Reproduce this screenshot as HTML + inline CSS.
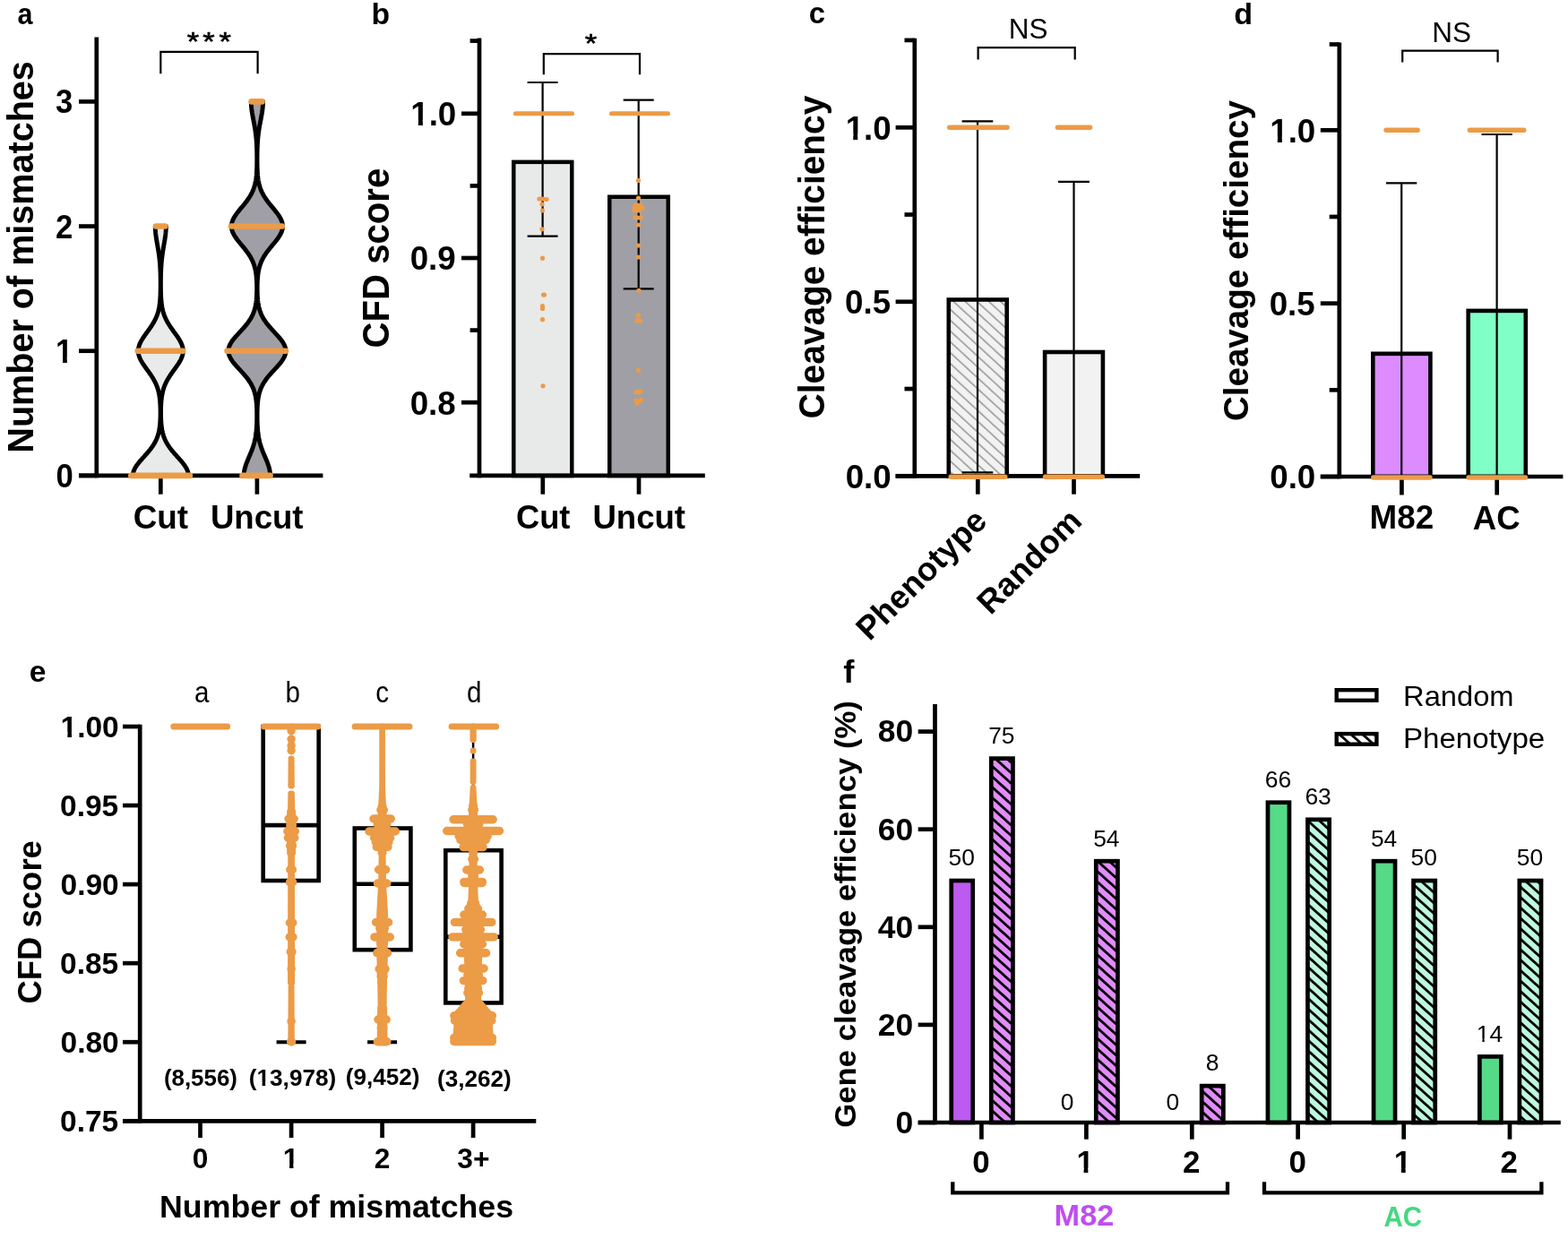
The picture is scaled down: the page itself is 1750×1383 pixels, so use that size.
<!DOCTYPE html>
<html><head><meta charset="utf-8"><title>Figure</title>
<style>html,body{margin:0;padding:0;background:#fff;}svg{display:block;}
text{font-family:'Liberation Sans', Arial, sans-serif;}</style></head>
<body><svg width="1750" height="1383" viewBox="0 0 1750 1383">
<rect width="1750" height="1383" fill="#fff"/>
<text transform="translate(19.62,26.99) scale(0.928,1)" font-size="32.89" font-weight="bold" fill="#000">a</text>
<text transform="translate(414.39,27.18) scale(1.016,1)" font-size="33.20" font-weight="bold" fill="#000">b</text>
<text transform="translate(902.68,26.18) scale(0.992,1)" font-size="33.07" font-weight="bold" fill="#000">c</text>
<text transform="translate(1377.23,27.28) scale(1.028,1)" font-size="33.20" font-weight="bold" fill="#000">d</text>
<text transform="translate(32.85,761.18) scale(1.016,1)" font-size="33.07" font-weight="bold" fill="#000">e</text>
<text transform="translate(941.33,761.6) scale(1.062,1)" font-size="34.45" font-weight="bold" fill="#000">f</text>
<path d="M210.3,530.9 L210.25,529.74 L210.11,528.58 L209.87,527.42 L209.54,526.26 L209.13,525.1 L208.62,523.94 L208.04,522.78 L207.38,521.62 L206.66,520.46 L205.87,519.3 L205.02,518.14 L204.12,516.98 L203.18,515.82 L202.21,514.66 L201.21,513.5 L200.18,512.34 L199.15,511.18 L198.1,510.02 L197.06,508.86 L196.02,507.7 L195,506.55 L193.99,505.39 L193,504.23 L192.04,503.07 L191.12,501.91 L190.22,500.75 L189.36,499.59 L188.55,498.43 L187.77,497.27 L187.03,496.11 L186.34,494.95 L185.68,493.79 L185.07,492.63 L184.51,491.47 L183.98,490.31 L183.5,489.15 L183.05,487.99 L182.64,486.83 L182.27,485.67 L181.93,484.51 L181.62,483.35 L181.34,482.19 L181.09,481.03 L180.87,479.87 L180.67,478.71 L180.49,477.55 L180.33,476.39 L180.19,475.23 L180.07,474.07 L179.97,472.91 L179.88,471.75 L179.8,470.59 L179.73,469.43 L179.67,468.27 L179.63,467.11 L179.59,465.95 L179.56,464.79 L179.54,463.63 L179.52,462.47 L179.52,461.31 L179.52,460.16 L179.52,459 L179.53,457.84 L179.55,456.68 L179.58,455.52 L179.62,454.36 L179.66,453.2 L179.71,452.04 L179.77,450.88 L179.84,449.72 L179.93,448.56 L180.02,447.4 L180.14,446.24 L180.26,445.08 L180.4,443.92 L180.56,442.76 L180.74,441.6 L180.95,440.44 L181.17,439.28 L181.42,438.12 L181.69,436.96 L181.99,435.8 L182.32,434.64 L182.68,433.48 L183.08,432.32 L183.5,431.16 L183.96,430 L184.45,428.84 L184.97,427.68 L185.53,426.52 L186.13,425.36 L186.76,424.2 L187.42,423.04 L188.11,421.88 L188.83,420.72 L189.58,419.56 L190.35,418.4 L191.15,417.24 L191.96,416.08 L192.79,414.92 L193.62,413.77 L194.46,412.61 L195.3,411.45 L196.14,410.29 L196.97,409.13 L197.77,407.97 L198.56,406.81 L199.32,405.65 L200.04,404.49 L200.72,403.33 L201.36,402.17 L201.95,401.01 L202.48,399.85 L202.95,398.69 L203.35,397.53 L203.69,396.37 L203.96,395.21 L204.15,394.05 L204.26,392.89 L204.3,391.73 L204.26,390.57 L204.15,389.41 L203.96,388.25 L203.69,387.09 L203.35,385.93 L202.95,384.77 L202.48,383.61 L201.95,382.45 L201.36,381.29 L200.72,380.13 L200.04,378.97 L199.32,377.81 L198.56,376.65 L197.77,375.49 L196.97,374.33 L196.14,373.17 L195.3,372.01 L194.46,370.85 L193.62,369.69 L192.79,368.53 L191.96,367.38 L191.15,366.22 L190.35,365.06 L189.58,363.9 L188.83,362.74 L188.11,361.58 L187.42,360.42 L186.76,359.26 L186.13,358.1 L185.53,356.94 L184.97,355.78 L184.45,354.62 L183.96,353.46 L183.5,352.3 L183.08,351.14 L182.68,349.98 L182.32,348.82 L181.99,347.66 L181.69,346.5 L181.42,345.34 L181.17,344.18 L180.94,343.02 L180.74,341.86 L180.56,340.7 L180.4,339.54 L180.26,338.38 L180.13,337.22 L180.02,336.06 L179.92,334.9 L179.83,333.74 L179.76,332.58 L179.69,331.42 L179.63,330.26 L179.58,329.1 L179.54,327.94 L179.51,326.78 L179.48,325.62 L179.46,324.46 L179.44,323.3 L179.42,322.14 L179.41,320.99 L179.4,319.83 L179.39,318.67 L179.39,317.51 L179.39,316.35 L179.4,315.19 L179.4,314.03 L179.41,312.87 L179.42,311.71 L179.44,310.55 L179.46,309.39 L179.48,308.23 L179.51,307.07 L179.53,305.91 L179.57,304.75 L179.61,303.59 L179.65,302.43 L179.7,301.27 L179.75,300.11 L179.81,298.95 L179.87,297.79 L179.95,296.63 L180.03,295.47 L180.11,294.31 L180.21,293.15 L180.31,291.99 L180.42,290.83 L180.54,289.67 L180.66,288.51 L180.8,287.35 L180.94,286.19 L181.09,285.03 L181.25,283.87 L181.41,282.71 L181.59,281.55 L181.77,280.39 L181.95,279.23 L182.14,278.07 L182.34,276.91 L182.54,275.75 L182.74,274.6 L182.94,273.44 L183.14,272.28 L183.34,271.12 L183.54,269.96 L183.73,268.8 L183.92,267.64 L184.1,266.48 L184.28,265.32 L184.44,264.16 L184.59,263 L184.74,261.84 L184.86,260.68 L184.98,259.52 L185.07,258.36 L185.15,257.2 L185.22,256.04 L185.26,254.88 L185.29,253.72 L185.3,252.56 L173.3,252.56 L173.31,253.72 L173.34,254.88 L173.38,256.04 L173.45,257.2 L173.53,258.36 L173.62,259.52 L173.74,260.68 L173.86,261.84 L174.01,263 L174.16,264.16 L174.32,265.32 L174.5,266.48 L174.68,267.64 L174.87,268.8 L175.06,269.96 L175.26,271.12 L175.46,272.28 L175.66,273.44 L175.86,274.6 L176.06,275.75 L176.26,276.91 L176.46,278.07 L176.65,279.23 L176.83,280.39 L177.01,281.55 L177.19,282.71 L177.35,283.87 L177.51,285.03 L177.66,286.19 L177.8,287.35 L177.94,288.51 L178.06,289.67 L178.18,290.83 L178.29,291.99 L178.39,293.15 L178.49,294.31 L178.57,295.47 L178.65,296.63 L178.73,297.79 L178.79,298.95 L178.85,300.11 L178.9,301.27 L178.95,302.43 L178.99,303.59 L179.03,304.75 L179.07,305.91 L179.09,307.07 L179.12,308.23 L179.14,309.39 L179.16,310.55 L179.18,311.71 L179.19,312.87 L179.2,314.03 L179.2,315.19 L179.21,316.35 L179.21,317.51 L179.21,318.67 L179.2,319.83 L179.19,320.99 L179.18,322.14 L179.16,323.3 L179.14,324.46 L179.12,325.62 L179.09,326.78 L179.06,327.94 L179.02,329.1 L178.97,330.26 L178.91,331.42 L178.84,332.58 L178.77,333.74 L178.68,334.9 L178.58,336.06 L178.47,337.22 L178.34,338.38 L178.2,339.54 L178.04,340.7 L177.86,341.86 L177.66,343.02 L177.43,344.18 L177.18,345.34 L176.91,346.5 L176.61,347.66 L176.28,348.82 L175.92,349.98 L175.52,351.14 L175.1,352.3 L174.64,353.46 L174.15,354.62 L173.63,355.78 L173.07,356.94 L172.47,358.1 L171.84,359.26 L171.18,360.42 L170.49,361.58 L169.77,362.74 L169.02,363.9 L168.25,365.06 L167.45,366.22 L166.64,367.38 L165.81,368.53 L164.98,369.69 L164.14,370.85 L163.3,372.01 L162.46,373.17 L161.63,374.33 L160.83,375.49 L160.04,376.65 L159.28,377.81 L158.56,378.97 L157.88,380.13 L157.24,381.29 L156.65,382.45 L156.12,383.61 L155.65,384.77 L155.25,385.93 L154.91,387.09 L154.64,388.25 L154.45,389.41 L154.34,390.57 L154.3,391.73 L154.34,392.89 L154.45,394.05 L154.64,395.21 L154.91,396.37 L155.25,397.53 L155.65,398.69 L156.12,399.85 L156.65,401.01 L157.24,402.17 L157.88,403.33 L158.56,404.49 L159.28,405.65 L160.04,406.81 L160.83,407.97 L161.63,409.13 L162.46,410.29 L163.3,411.45 L164.14,412.61 L164.98,413.77 L165.81,414.92 L166.64,416.08 L167.45,417.24 L168.25,418.4 L169.02,419.56 L169.77,420.72 L170.49,421.88 L171.18,423.04 L171.84,424.2 L172.47,425.36 L173.07,426.52 L173.63,427.68 L174.15,428.84 L174.64,430 L175.1,431.16 L175.52,432.32 L175.92,433.48 L176.28,434.64 L176.61,435.8 L176.91,436.96 L177.18,438.12 L177.43,439.28 L177.65,440.44 L177.86,441.6 L178.04,442.76 L178.2,443.92 L178.34,445.08 L178.46,446.24 L178.58,447.4 L178.67,448.56 L178.76,449.72 L178.83,450.88 L178.89,452.04 L178.94,453.2 L178.98,454.36 L179.02,455.52 L179.05,456.68 L179.07,457.84 L179.08,459 L179.08,460.16 L179.08,461.31 L179.08,462.47 L179.06,463.63 L179.04,464.79 L179.01,465.95 L178.97,467.11 L178.93,468.27 L178.87,469.43 L178.8,470.59 L178.72,471.75 L178.63,472.91 L178.53,474.07 L178.41,475.23 L178.27,476.39 L178.11,477.55 L177.93,478.71 L177.73,479.87 L177.51,481.03 L177.26,482.19 L176.98,483.35 L176.67,484.51 L176.33,485.67 L175.96,486.83 L175.55,487.99 L175.1,489.15 L174.62,490.31 L174.09,491.47 L173.53,492.63 L172.92,493.79 L172.26,494.95 L171.57,496.11 L170.83,497.27 L170.05,498.43 L169.24,499.59 L168.38,500.75 L167.48,501.91 L166.56,503.07 L165.6,504.23 L164.61,505.39 L163.6,506.55 L162.58,507.7 L161.54,508.86 L160.5,510.02 L159.45,511.18 L158.42,512.34 L157.39,513.5 L156.39,514.66 L155.42,515.82 L154.48,516.98 L153.58,518.14 L152.73,519.3 L151.94,520.46 L151.22,521.62 L150.56,522.78 L149.98,523.94 L149.47,525.1 L149.06,526.26 L148.73,527.42 L148.49,528.58 L148.35,529.74 L148.3,530.9 Z" fill="#E9EBEA" stroke="#000" stroke-width="4.9" stroke-linejoin="round"/>
<path d="M301.6,530.9 L301.55,529.16 L301.4,527.42 L301.15,525.68 L300.81,523.94 L300.38,522.2 L299.87,520.46 L299.3,518.72 L298.67,516.98 L298,515.24 L297.29,513.5 L296.56,511.76 L295.82,510.02 L295.07,508.28 L294.34,506.55 L293.63,504.81 L292.94,503.07 L292.29,501.33 L291.67,499.59 L291.1,497.85 L290.57,496.11 L290.08,494.37 L289.64,492.63 L289.24,490.89 L288.89,489.15 L288.58,487.41 L288.31,485.67 L288.07,483.93 L287.87,482.19 L287.7,480.45 L287.55,478.71 L287.43,476.97 L287.33,475.23 L287.25,473.49 L287.19,471.75 L287.14,470.01 L287.1,468.27 L287.08,466.53 L287.07,464.79 L287.07,463.05 L287.08,461.31 L287.11,459.58 L287.14,457.84 L287.2,456.1 L287.27,454.36 L287.37,452.62 L287.49,450.88 L287.64,449.14 L287.82,447.4 L288.04,445.66 L288.31,443.92 L288.63,442.18 L289,440.44 L289.45,438.7 L289.96,436.96 L290.55,435.22 L291.23,433.48 L292,431.74 L292.86,430 L293.82,428.26 L294.88,426.52 L296.04,424.78 L297.29,423.04 L298.63,421.3 L300.06,419.56 L301.55,417.82 L303.1,416.08 L304.7,414.35 L306.31,412.61 L307.92,410.87 L309.51,409.13 L311.05,407.39 L312.52,405.65 L313.89,403.91 L315.14,402.17 L316.24,400.43 L317.17,398.69 L317.92,396.95 L318.46,395.21 L318.79,393.47 L318.9,391.73 L318.79,389.99 L318.46,388.25 L317.92,386.51 L317.17,384.77 L316.24,383.03 L315.14,381.29 L313.89,379.55 L312.52,377.81 L311.05,376.07 L309.51,374.33 L307.92,372.59 L306.31,370.85 L304.7,369.11 L303.1,367.38 L301.55,365.64 L300.06,363.9 L298.63,362.16 L297.29,360.42 L296.04,358.68 L294.88,356.94 L293.82,355.2 L292.86,353.46 L292,351.72 L291.23,349.98 L290.55,348.24 L289.96,346.5 L289.45,344.76 L289.01,343.02 L288.63,341.28 L288.31,339.54 L288.04,337.8 L287.82,336.06 L287.64,334.32 L287.5,332.58 L287.38,330.84 L287.29,329.1 L287.22,327.36 L287.18,325.62 L287.15,323.88 L287.13,322.14 L287.14,320.41 L287.16,318.67 L287.2,316.93 L287.26,315.19 L287.33,313.45 L287.44,311.71 L287.57,309.97 L287.73,308.23 L287.92,306.49 L288.16,304.75 L288.45,303.01 L288.78,301.27 L289.18,299.53 L289.64,297.79 L290.17,296.05 L290.77,294.31 L291.46,292.57 L292.23,290.83 L293.09,289.09 L294.03,287.35 L295.07,285.61 L296.19,283.87 L297.38,282.13 L298.66,280.39 L299.99,278.65 L301.38,276.91 L302.8,275.18 L304.25,273.44 L305.69,271.7 L307.11,269.96 L308.49,268.22 L309.8,266.48 L311.03,264.74 L312.14,263 L313.12,261.26 L313.95,259.52 L314.62,257.78 L315.11,256.04 L315.4,254.3 L315.5,252.56 L315.4,250.82 L315.11,249.08 L314.62,247.34 L313.95,245.6 L313.12,243.86 L312.14,242.12 L311.03,240.38 L309.8,238.64 L308.49,236.9 L307.11,235.16 L305.69,233.42 L304.25,231.68 L302.8,229.94 L301.38,228.21 L299.99,226.47 L298.66,224.73 L297.38,222.99 L296.19,221.25 L295.07,219.51 L294.03,217.77 L293.09,216.03 L292.23,214.29 L291.46,212.55 L290.77,210.81 L290.17,209.07 L289.64,207.33 L289.18,205.59 L288.78,203.85 L288.44,202.11 L288.16,200.37 L287.92,198.63 L287.72,196.89 L287.55,195.15 L287.42,193.41 L287.31,191.67 L287.23,189.93 L287.16,188.19 L287.1,186.45 L287.06,184.71 L287.04,182.98 L287.02,181.24 L287.01,179.5 L287,177.76 L287.01,176.02 L287.02,174.28 L287.04,172.54 L287.06,170.8 L287.1,169.06 L287.14,167.32 L287.19,165.58 L287.26,163.84 L287.34,162.1 L287.43,160.36 L287.53,158.62 L287.65,156.88 L287.79,155.14 L287.95,153.4 L288.13,151.66 L288.33,149.92 L288.55,148.18 L288.78,146.44 L289.04,144.7 L289.32,142.96 L289.61,141.22 L289.92,139.48 L290.24,137.74 L290.57,136.01 L290.9,134.27 L291.24,132.53 L291.56,130.79 L291.88,129.05 L292.18,127.31 L292.47,125.57 L292.72,123.83 L292.95,122.09 L293.14,120.35 L293.3,118.61 L293.41,116.87 L293.48,115.13 L293.5,113.39 L280.3,113.39 L280.32,115.13 L280.39,116.87 L280.5,118.61 L280.66,120.35 L280.85,122.09 L281.08,123.83 L281.33,125.57 L281.62,127.31 L281.92,129.05 L282.24,130.79 L282.56,132.53 L282.9,134.27 L283.23,136.01 L283.56,137.74 L283.88,139.48 L284.19,141.22 L284.48,142.96 L284.76,144.7 L285.02,146.44 L285.25,148.18 L285.47,149.92 L285.67,151.66 L285.85,153.4 L286.01,155.14 L286.15,156.88 L286.27,158.62 L286.37,160.36 L286.46,162.1 L286.54,163.84 L286.61,165.58 L286.66,167.32 L286.7,169.06 L286.74,170.8 L286.76,172.54 L286.78,174.28 L286.79,176.02 L286.8,177.76 L286.79,179.5 L286.78,181.24 L286.76,182.98 L286.74,184.71 L286.7,186.45 L286.64,188.19 L286.57,189.93 L286.49,191.67 L286.38,193.41 L286.25,195.15 L286.08,196.89 L285.88,198.63 L285.64,200.37 L285.36,202.11 L285.02,203.85 L284.62,205.59 L284.16,207.33 L283.63,209.07 L283.03,210.81 L282.34,212.55 L281.57,214.29 L280.71,216.03 L279.77,217.77 L278.73,219.51 L277.61,221.25 L276.42,222.99 L275.14,224.73 L273.81,226.47 L272.42,228.21 L271,229.94 L269.55,231.68 L268.11,233.42 L266.69,235.16 L265.31,236.9 L264,238.64 L262.77,240.38 L261.66,242.12 L260.68,243.86 L259.85,245.6 L259.18,247.34 L258.69,249.08 L258.4,250.82 L258.3,252.56 L258.4,254.3 L258.69,256.04 L259.18,257.78 L259.85,259.52 L260.68,261.26 L261.66,263 L262.77,264.74 L264,266.48 L265.31,268.22 L266.69,269.96 L268.11,271.7 L269.55,273.44 L271,275.18 L272.42,276.91 L273.81,278.65 L275.14,280.39 L276.42,282.13 L277.61,283.87 L278.73,285.61 L279.77,287.35 L280.71,289.09 L281.57,290.83 L282.34,292.57 L283.03,294.31 L283.63,296.05 L284.16,297.79 L284.62,299.53 L285.02,301.27 L285.35,303.01 L285.64,304.75 L285.88,306.49 L286.07,308.23 L286.23,309.97 L286.36,311.71 L286.47,313.45 L286.54,315.19 L286.6,316.93 L286.64,318.67 L286.66,320.41 L286.67,322.14 L286.65,323.88 L286.62,325.62 L286.58,327.36 L286.51,329.1 L286.42,330.84 L286.3,332.58 L286.16,334.32 L285.98,336.06 L285.76,337.8 L285.49,339.54 L285.17,341.28 L284.79,343.02 L284.35,344.76 L283.84,346.5 L283.25,348.24 L282.57,349.98 L281.8,351.72 L280.94,353.46 L279.98,355.2 L278.92,356.94 L277.76,358.68 L276.51,360.42 L275.17,362.16 L273.74,363.9 L272.25,365.64 L270.7,367.38 L269.1,369.11 L267.49,370.85 L265.88,372.59 L264.29,374.33 L262.75,376.07 L261.28,377.81 L259.91,379.55 L258.66,381.29 L257.56,383.03 L256.63,384.77 L255.88,386.51 L255.34,388.25 L255.01,389.99 L254.9,391.73 L255.01,393.47 L255.34,395.21 L255.88,396.95 L256.63,398.69 L257.56,400.43 L258.66,402.17 L259.91,403.91 L261.28,405.65 L262.75,407.39 L264.29,409.13 L265.88,410.87 L267.49,412.61 L269.1,414.35 L270.7,416.08 L272.25,417.82 L273.74,419.56 L275.17,421.3 L276.51,423.04 L277.76,424.78 L278.92,426.52 L279.98,428.26 L280.94,430 L281.8,431.74 L282.57,433.48 L283.25,435.22 L283.84,436.96 L284.35,438.7 L284.8,440.44 L285.17,442.18 L285.49,443.92 L285.76,445.66 L285.98,447.4 L286.16,449.14 L286.31,450.88 L286.43,452.62 L286.53,454.36 L286.6,456.1 L286.66,457.84 L286.69,459.58 L286.72,461.31 L286.73,463.05 L286.73,464.79 L286.72,466.53 L286.7,468.27 L286.66,470.01 L286.61,471.75 L286.55,473.49 L286.47,475.23 L286.37,476.97 L286.25,478.71 L286.1,480.45 L285.93,482.19 L285.73,483.93 L285.49,485.67 L285.22,487.41 L284.91,489.15 L284.56,490.89 L284.16,492.63 L283.72,494.37 L283.23,496.11 L282.7,497.85 L282.13,499.59 L281.51,501.33 L280.86,503.07 L280.17,504.81 L279.46,506.55 L278.73,508.28 L277.98,510.02 L277.24,511.76 L276.51,513.5 L275.8,515.24 L275.13,516.98 L274.5,518.72 L273.93,520.46 L273.42,522.2 L272.99,523.94 L272.65,525.68 L272.4,527.42 L272.25,529.16 L272.2,530.9 Z" fill="#A09FA5" stroke="#000" stroke-width="4.9" stroke-linejoin="round"/>
<line x1="107.8" y1="41.6" x2="107.8" y2="533.25" stroke="#000" stroke-width="4.7" stroke-linecap="butt"/>
<line x1="88" y1="530.9" x2="360.4" y2="530.9" stroke="#000" stroke-width="4.7" stroke-linecap="butt"/>
<line x1="88" y1="530.9" x2="107.8" y2="530.9" stroke="#000" stroke-width="4.7" stroke-linecap="butt"/>
<text transform="translate(62.52,543.85) scale(0.950,1)" font-size="36.50" font-weight="bold" fill="#000">0</text>
<line x1="88" y1="391.73" x2="107.8" y2="391.73" stroke="#000" stroke-width="4.7" stroke-linecap="butt"/>
<g><text transform="translate(61.98,404.96) scale(0.950,1)" font-size="36.50" font-weight="bold" fill="#000">1</text><g transform="translate(61.98,404.96) scale(0.950,1)"><rect x="1.46" y="-6.21" width="7.03" height="7.30" fill="#fff"/><rect x="13.52" y="-6.21" width="6.55" height="7.30" fill="#fff"/></g></g>
<line x1="88" y1="252.56" x2="107.8" y2="252.56" stroke="#000" stroke-width="4.7" stroke-linecap="butt"/>
<text transform="translate(61.98,265.79) scale(0.950,1)" font-size="36.50" font-weight="bold" fill="#000">2</text>
<line x1="88" y1="113.39" x2="107.8" y2="113.39" stroke="#000" stroke-width="4.7" stroke-linecap="butt"/>
<text transform="translate(61.98,126.34) scale(0.950,1)" font-size="36.50" font-weight="bold" fill="#000">3</text>
<line x1="179.3" y1="530.9" x2="179.3" y2="551.7" stroke="#000" stroke-width="4.7" stroke-linecap="butt"/>
<line x1="286.9" y1="530.9" x2="286.9" y2="551.7" stroke="#000" stroke-width="4.7" stroke-linecap="butt"/>
<line x1="146.3" y1="530.9" x2="211.9" y2="530.9" stroke="#EC9B46" stroke-width="6.6" stroke-linecap="round"/>
<line x1="153.7" y1="391.73" x2="204.2" y2="391.73" stroke="#EC9B46" stroke-width="6.6" stroke-linecap="round"/>
<line x1="174.1" y1="252.56" x2="184.2" y2="252.56" stroke="#EC9B46" stroke-width="6.6" stroke-linecap="round"/>
<line x1="270.5" y1="530.9" x2="301.6" y2="530.9" stroke="#EC9B46" stroke-width="6.6" stroke-linecap="round"/>
<line x1="253.6" y1="391.73" x2="319" y2="391.73" stroke="#EC9B46" stroke-width="6.6" stroke-linecap="round"/>
<line x1="257.9" y1="252.56" x2="314.8" y2="252.56" stroke="#EC9B46" stroke-width="6.6" stroke-linecap="round"/>
<line x1="280.6" y1="113.39" x2="292.5" y2="113.39" stroke="#EC9B46" stroke-width="6.6" stroke-linecap="round"/>
<text transform="translate(148.65,590.33) scale(1.015,1)" font-size="36.31" font-weight="bold" fill="#000">Cut</text>
<text transform="translate(234.88,590.43) scale(1.008,1)" font-size="36.31" font-weight="bold" fill="#000">Uncut</text>
<text transform="translate(36.98,505.67) rotate(-90) scale(0.996,1)" font-size="39.73" font-weight="bold" fill="#000">Number of mismatches</text>
<path d="M179.3,82.2 V57.8 H287.6 V82.2" fill="none" stroke="#000" stroke-width="2.2"/>
<text transform="translate(208.86,56.4) scale(1.155,1)" font-size="29.87" font-weight="normal" fill="#000" stroke="#000" stroke-width="0.6">*</text>
<text transform="translate(226.36,56.4) scale(1.155,1)" font-size="29.87" font-weight="normal" fill="#000" stroke="#000" stroke-width="0.6">*</text>
<text transform="translate(244.56,56.4) scale(1.155,1)" font-size="29.87" font-weight="normal" fill="#000" stroke="#000" stroke-width="0.6">*</text>
<rect x="573.25" y="180.85" width="65" height="350.15" fill="#E8E9E9" stroke="#000" stroke-width="4.5"/>
<rect x="680.25" y="219.75" width="65.5" height="311.25" fill="#A09FA5" stroke="#000" stroke-width="4.5"/>
<line x1="535" y1="42.4" x2="535" y2="533.25" stroke="#000" stroke-width="4.7" stroke-linecap="butt"/>
<line x1="524.2" y1="530.9" x2="786.8" y2="530.9" stroke="#000" stroke-width="4.7" stroke-linecap="butt"/>
<line x1="524.6" y1="45.6" x2="535" y2="45.6" stroke="#000" stroke-width="4.7" stroke-linecap="butt"/>
<line x1="515" y1="126.8" x2="535" y2="126.8" stroke="#000" stroke-width="4.7" stroke-linecap="butt"/>
<g><text transform="translate(458.27,140.22)" font-size="36.70" font-weight="bold" fill="#000">1.0</text><g transform="translate(458.27,140.22)"><rect x="1.47" y="-6.24" width="7.06" height="7.34" fill="#fff"/><rect x="13.60" y="-6.24" width="6.59" height="7.34" fill="#fff"/></g></g>
<line x1="524.6" y1="207.4" x2="535" y2="207.4" stroke="#000" stroke-width="4.7" stroke-linecap="butt"/>
<line x1="515" y1="288" x2="535" y2="288" stroke="#000" stroke-width="4.7" stroke-linecap="butt"/>
<text transform="translate(457.7,301.42)" font-size="36.70" font-weight="bold" fill="#000">0.9</text>
<line x1="524.6" y1="368.6" x2="535" y2="368.6" stroke="#000" stroke-width="4.7" stroke-linecap="butt"/>
<line x1="515" y1="449.2" x2="535" y2="449.2" stroke="#000" stroke-width="4.7" stroke-linecap="butt"/>
<text transform="translate(457.7,462.62)" font-size="36.70" font-weight="bold" fill="#000">0.8</text>
<line x1="605.8" y1="530.9" x2="605.8" y2="551.7" stroke="#000" stroke-width="4.7" stroke-linecap="butt"/>
<line x1="713" y1="530.9" x2="713" y2="551.7" stroke="#000" stroke-width="4.7" stroke-linecap="butt"/>
<line x1="605.6" y1="92" x2="605.6" y2="263.7" stroke="#000" stroke-width="2.2" stroke-linecap="butt"/>
<line x1="588.6" y1="92" x2="622.6" y2="92" stroke="#000" stroke-width="2.2" stroke-linecap="butt"/>
<line x1="588.6" y1="263.7" x2="622.6" y2="263.7" stroke="#000" stroke-width="2.2" stroke-linecap="butt"/>
<line x1="712.7" y1="111.7" x2="712.7" y2="322.4" stroke="#000" stroke-width="2.2" stroke-linecap="butt"/>
<line x1="695.7" y1="111.7" x2="729.7" y2="111.7" stroke="#000" stroke-width="2.2" stroke-linecap="butt"/>
<line x1="695.7" y1="322.4" x2="729.7" y2="322.4" stroke="#000" stroke-width="2.2" stroke-linecap="butt"/>
<line x1="575.3" y1="126.8" x2="638.5" y2="126.8" stroke="#EC9B46" stroke-width="5" stroke-linecap="round"/>
<line x1="682.5" y1="126.8" x2="745.5" y2="126.8" stroke="#EC9B46" stroke-width="5" stroke-linecap="round"/>
<circle cx="602" cy="222" r="2.6" fill="#EC9B46"/>
<circle cx="606" cy="222" r="2.6" fill="#EC9B46"/>
<circle cx="610" cy="222.5" r="2.6" fill="#EC9B46"/>
<circle cx="605" cy="228" r="2.6" fill="#EC9B46"/>
<circle cx="605.5" cy="235" r="2.6" fill="#EC9B46"/>
<circle cx="605" cy="255.8" r="2.6" fill="#EC9B46"/>
<circle cx="605.5" cy="288.2" r="2.6" fill="#EC9B46"/>
<circle cx="606.5" cy="329" r="2.6" fill="#EC9B46"/>
<circle cx="607.5" cy="329" r="2.6" fill="#EC9B46"/>
<circle cx="605.5" cy="341.7" r="2.6" fill="#EC9B46"/>
<circle cx="605.5" cy="344.5" r="2.6" fill="#EC9B46"/>
<circle cx="605.5" cy="356.7" r="2.6" fill="#EC9B46"/>
<circle cx="606" cy="430.8" r="2.6" fill="#EC9B46"/>
<circle cx="712.5" cy="201.4" r="2.6" fill="#EC9B46"/>
<circle cx="712.5" cy="221" r="2.6" fill="#EC9B46"/>
<circle cx="709" cy="229" r="2.6" fill="#EC9B46"/>
<circle cx="712" cy="229" r="2.6" fill="#EC9B46"/>
<circle cx="715" cy="229" r="2.6" fill="#EC9B46"/>
<circle cx="708" cy="232" r="2.6" fill="#EC9B46"/>
<circle cx="711" cy="232" r="2.6" fill="#EC9B46"/>
<circle cx="714" cy="232" r="2.6" fill="#EC9B46"/>
<circle cx="717" cy="232" r="2.6" fill="#EC9B46"/>
<circle cx="708" cy="235" r="2.6" fill="#EC9B46"/>
<circle cx="711" cy="235" r="2.6" fill="#EC9B46"/>
<circle cx="714" cy="235" r="2.6" fill="#EC9B46"/>
<circle cx="709" cy="243" r="2.6" fill="#EC9B46"/>
<circle cx="712" cy="243" r="2.6" fill="#EC9B46"/>
<circle cx="715" cy="243" r="2.6" fill="#EC9B46"/>
<circle cx="712.5" cy="251" r="2.6" fill="#EC9B46"/>
<circle cx="712.5" cy="274" r="2.6" fill="#EC9B46"/>
<circle cx="712.5" cy="287" r="2.6" fill="#EC9B46"/>
<circle cx="713" cy="324.3" r="2.6" fill="#EC9B46"/>
<circle cx="712.5" cy="352" r="2.6" fill="#EC9B46"/>
<circle cx="711" cy="357.9" r="2.6" fill="#EC9B46"/>
<circle cx="714" cy="357.9" r="2.6" fill="#EC9B46"/>
<circle cx="712.5" cy="413.4" r="2.6" fill="#EC9B46"/>
<circle cx="710" cy="437.7" r="2.6" fill="#EC9B46"/>
<circle cx="713" cy="437.7" r="2.6" fill="#EC9B46"/>
<circle cx="715" cy="436.5" r="2.6" fill="#EC9B46"/>
<circle cx="710" cy="447" r="2.6" fill="#EC9B46"/>
<circle cx="713" cy="448" r="2.6" fill="#EC9B46"/>
<circle cx="715.5" cy="446.5" r="2.6" fill="#EC9B46"/>
<circle cx="711" cy="450" r="2.6" fill="#EC9B46"/>
<text transform="translate(433.73,388.56) rotate(-90) scale(0.944,1)" font-size="42.57" font-weight="bold" fill="#000">CFD score</text>
<text transform="translate(575.96,590.13) scale(1.004,1)" font-size="36.17" font-weight="bold" fill="#000">Cut</text>
<text transform="translate(661.38,590.13) scale(1.012,1)" font-size="36.17" font-weight="bold" fill="#000">Uncut</text>
<path d="M606.8,83.3 V60.1 H714 V83.3" fill="none" stroke="#000" stroke-width="2.2"/>
<text transform="translate(652.76,57.77) scale(1.144,1)" font-size="30.40" font-weight="normal" fill="#000" stroke="#000" stroke-width="0.6">*</text>
<defs><pattern id="hc" patternUnits="userSpaceOnUse" width="8.9" height="8.9" patternTransform="rotate(-47.4)"><rect width="8.9" height="8.9" fill="#F2F2F2"/><rect x="0" y="0" width="1.6" height="8.9" fill="#999"/></pattern></defs>
<rect x="1058.8" y="334.5" width="64.9" height="196.8" fill="url(#hc)" stroke="#000" stroke-width="4.6"/>
<rect x="1166.1" y="393" width="64.8" height="138.3" fill="#F2F2F2" stroke="#000" stroke-width="4.6"/>
<line x1="1020.8" y1="42.8" x2="1020.8" y2="533.65" stroke="#000" stroke-width="4.7" stroke-linecap="butt"/>
<line x1="999.6" y1="531.3" x2="1272.2" y2="531.3" stroke="#000" stroke-width="4.7" stroke-linecap="butt"/>
<line x1="1009.5" y1="44.9" x2="1020.8" y2="44.9" stroke="#000" stroke-width="4.7" stroke-linecap="butt"/>
<line x1="999.6" y1="142.3" x2="1020.8" y2="142.3" stroke="#000" stroke-width="4.7" stroke-linecap="butt"/>
<g><text transform="translate(943.67,155.72)" font-size="36.70" font-weight="bold" fill="#000">1.0</text><g transform="translate(943.67,155.72)"><rect x="1.47" y="-6.24" width="7.06" height="7.34" fill="#fff"/><rect x="13.60" y="-6.24" width="6.59" height="7.34" fill="#fff"/></g></g>
<line x1="1009.5" y1="239.55" x2="1020.8" y2="239.55" stroke="#000" stroke-width="4.7" stroke-linecap="butt"/>
<line x1="999.6" y1="336.8" x2="1020.8" y2="336.8" stroke="#000" stroke-width="4.7" stroke-linecap="butt"/>
<text transform="translate(943.1,350.22)" font-size="36.70" font-weight="bold" fill="#000">0.5</text>
<line x1="1009.5" y1="434.05" x2="1020.8" y2="434.05" stroke="#000" stroke-width="4.7" stroke-linecap="butt"/>
<line x1="999.6" y1="531.3" x2="1020.8" y2="531.3" stroke="#000" stroke-width="4.7" stroke-linecap="butt"/>
<text transform="translate(943.67,544.72)" font-size="36.70" font-weight="bold" fill="#000">0.0</text>
<line x1="1091.3" y1="531.3" x2="1091.3" y2="551.7" stroke="#000" stroke-width="4.7" stroke-linecap="butt"/>
<line x1="1198.5" y1="531.3" x2="1198.5" y2="551.7" stroke="#000" stroke-width="4.7" stroke-linecap="butt"/>
<line x1="1091" y1="135.3" x2="1091" y2="527.4" stroke="#000" stroke-width="2.2" stroke-linecap="butt"/>
<line x1="1073.6" y1="135.3" x2="1108.3" y2="135.3" stroke="#000" stroke-width="2.2" stroke-linecap="butt"/>
<line x1="1073.6" y1="527.4" x2="1108.3" y2="527.4" stroke="#000" stroke-width="2.2" stroke-linecap="butt"/>
<line x1="1198.5" y1="202.9" x2="1198.5" y2="531.3" stroke="#000" stroke-width="2.2" stroke-linecap="butt"/>
<line x1="1181" y1="202.9" x2="1215.9" y2="202.9" stroke="#000" stroke-width="2.2" stroke-linecap="butt"/>
<line x1="1059.75" y1="142.3" x2="1124.05" y2="142.3" stroke="#EC9B46" stroke-width="5.5" stroke-linecap="round"/>
<line x1="1180.45" y1="142.3" x2="1216.55" y2="142.3" stroke="#EC9B46" stroke-width="5.5" stroke-linecap="round"/>
<line x1="1061.25" y1="532.3" x2="1121.75" y2="532.3" stroke="#EC9B46" stroke-width="5.5" stroke-linecap="round"/>
<line x1="1166.55" y1="532.3" x2="1230.25" y2="532.3" stroke="#EC9B46" stroke-width="5.5" stroke-linecap="round"/>
<path d="M1091.6,66.6 V53.2 H1199.7 V66.6" fill="none" stroke="#000" stroke-width="2.2"/>
<text transform="translate(1125.74,43.12) scale(1.034,1)" font-size="30.47" font-weight="normal" fill="#000">NS</text>
<text transform="translate(920.28,467.21) rotate(-90) scale(0.942,1)" font-size="41.23" font-weight="bold" fill="#000">Cleavage efficiency</text>
<text transform="translate(1103.5,583.5) scale(1,1) rotate(-45)" font-size="36.8" font-weight="bold" text-anchor="end" fill="#000">Phenotype</text>
<text transform="translate(1209.5,583.5) scale(1,1) rotate(-45)" font-size="36.8" font-weight="bold" text-anchor="end" fill="#000">Random</text>
<rect x="1532.3" y="394.8" width="64.1" height="137.2" fill="#DC8CFF" stroke="#000" stroke-width="4.6"/>
<rect x="1638.7" y="346.9" width="64.1" height="185.1" fill="#80FFC6" stroke="#000" stroke-width="4.6"/>
<line x1="1494.8" y1="47.4" x2="1494.8" y2="534.35" stroke="#000" stroke-width="4.7" stroke-linecap="butt"/>
<line x1="1473.8" y1="532" x2="1744.4" y2="532" stroke="#000" stroke-width="4.7" stroke-linecap="butt"/>
<line x1="1483.7" y1="49.5" x2="1494.8" y2="49.5" stroke="#000" stroke-width="4.7" stroke-linecap="butt"/>
<line x1="1473.8" y1="145.3" x2="1494.8" y2="145.3" stroke="#000" stroke-width="4.7" stroke-linecap="butt"/>
<g><text transform="translate(1417.27,158.72)" font-size="36.70" font-weight="bold" fill="#000">1.0</text><g transform="translate(1417.27,158.72)"><rect x="1.47" y="-6.24" width="7.06" height="7.34" fill="#fff"/><rect x="13.60" y="-6.24" width="6.59" height="7.34" fill="#fff"/></g></g>
<line x1="1483.7" y1="241.98" x2="1494.8" y2="241.98" stroke="#000" stroke-width="4.7" stroke-linecap="butt"/>
<line x1="1473.8" y1="338.65" x2="1494.8" y2="338.65" stroke="#000" stroke-width="4.7" stroke-linecap="butt"/>
<text transform="translate(1416.7,352.07)" font-size="36.70" font-weight="bold" fill="#000">0.5</text>
<line x1="1483.7" y1="435.32" x2="1494.8" y2="435.32" stroke="#000" stroke-width="4.7" stroke-linecap="butt"/>
<line x1="1473.8" y1="532" x2="1494.8" y2="532" stroke="#000" stroke-width="4.7" stroke-linecap="butt"/>
<text transform="translate(1417.27,545.42)" font-size="36.70" font-weight="bold" fill="#000">0.0</text>
<line x1="1564.4" y1="532" x2="1564.4" y2="552.5" stroke="#000" stroke-width="4.7" stroke-linecap="butt"/>
<line x1="1670.7" y1="532" x2="1670.7" y2="552.5" stroke="#000" stroke-width="4.7" stroke-linecap="butt"/>
<line x1="1564.2" y1="204.3" x2="1564.2" y2="532" stroke="#000" stroke-width="2.2" stroke-linecap="butt"/>
<line x1="1547" y1="204.3" x2="1581.3" y2="204.3" stroke="#000" stroke-width="2.2" stroke-linecap="butt"/>
<line x1="1670.6" y1="150" x2="1670.6" y2="532" stroke="#000" stroke-width="2.2" stroke-linecap="butt"/>
<line x1="1653.5" y1="150" x2="1687.8" y2="150" stroke="#000" stroke-width="2.2" stroke-linecap="butt"/>
<line x1="1547.05" y1="145.3" x2="1582.05" y2="145.3" stroke="#EC9B46" stroke-width="5.5" stroke-linecap="round"/>
<line x1="1640.35" y1="145.3" x2="1700.75" y2="145.3" stroke="#EC9B46" stroke-width="5.5" stroke-linecap="round"/>
<line x1="1532.75" y1="533" x2="1595.95" y2="533" stroke="#EC9B46" stroke-width="5.5" stroke-linecap="round"/>
<line x1="1639.15" y1="533" x2="1702.35" y2="533" stroke="#EC9B46" stroke-width="5.5" stroke-linecap="round"/>
<path d="M1565.2,69.4 V56.7 H1671.6 V69.4" fill="none" stroke="#000" stroke-width="2.2"/>
<text transform="translate(1598.24,46.82) scale(1.034,1)" font-size="30.47" font-weight="normal" fill="#000">NS</text>
<text transform="translate(1392.81,470.11) rotate(-90) scale(0.994,1)" font-size="38.82" font-weight="bold" fill="#000">Cleavage efficiency</text>
<text transform="translate(1528.6,590.43) scale(1.018,1)" font-size="36.17" font-weight="bold" fill="#000">M82</text>
<text transform="translate(1643.73,590.83) scale(0.997,1)" font-size="36.73" font-weight="bold" fill="#000">AC</text>
<line x1="325.1" y1="811" x2="325.1" y2="811" stroke="#000" stroke-width="2.5" stroke-linecap="butt"/>
<line x1="325.1" y1="983" x2="325.1" y2="1163.2" stroke="#000" stroke-width="2.5" stroke-linecap="butt"/>
<line x1="308.6" y1="1163.2" x2="341.6" y2="1163.2" stroke="#000" stroke-width="4" stroke-linecap="butt"/>
<rect x="293.7" y="811" width="62" height="172" fill="none" stroke="#000" stroke-width="4.6"/>
<line x1="293.7" y1="921.1" x2="355.7" y2="921.1" stroke="#000" stroke-width="4.6" stroke-linecap="butt"/>
<line x1="426.6" y1="924.5" x2="426.6" y2="811" stroke="#000" stroke-width="2.5" stroke-linecap="butt"/>
<line x1="426.6" y1="1060.2" x2="426.6" y2="1163.2" stroke="#000" stroke-width="2.5" stroke-linecap="butt"/>
<line x1="410.1" y1="1163.2" x2="443.1" y2="1163.2" stroke="#000" stroke-width="4" stroke-linecap="butt"/>
<rect x="395.8" y="924.5" width="62.6" height="135.7" fill="none" stroke="#000" stroke-width="4.6"/>
<line x1="395.8" y1="986.8" x2="458.4" y2="986.8" stroke="#000" stroke-width="4.6" stroke-linecap="butt"/>
<line x1="528.1" y1="949.2" x2="528.1" y2="811" stroke="#000" stroke-width="2.5" stroke-linecap="butt"/>
<line x1="528.1" y1="1119.4" x2="528.1" y2="1163.2" stroke="#000" stroke-width="2.5" stroke-linecap="butt"/>
<line x1="511.6" y1="1163.2" x2="544.6" y2="1163.2" stroke="#000" stroke-width="4" stroke-linecap="butt"/>
<rect x="497.3" y="949.2" width="62.3" height="170.2" fill="none" stroke="#000" stroke-width="4.6"/>
<line x1="497.3" y1="1045.7" x2="559.6" y2="1045.7" stroke="#000" stroke-width="4.6" stroke-linecap="butt"/>
<line x1="193.8" y1="811" x2="253.6" y2="811" stroke="#EC9B46" stroke-width="7" stroke-linecap="round"/>
<path d="M325.1,811H325.11M325.1,813.5H325.11M325.1,816H325.11M325.1,825H325.11M325.1,827.13H325.11M325.1,829.27H325.11M325.1,831.4H325.11M325.1,833.53H325.11M325.1,835.67H325.11M325.1,837.8H325.11M325,847H325.21M324.98,849H325.23M324.96,851H325.25M324.94,853H325.27M324.92,855H325.29M324.9,857H325.31M324.88,859H325.33M324.86,861H325.35M324.84,863H325.37M324.82,865H325.39M324.8,867H325.41M324.78,869H325.43M324.76,871H325.45M324.74,873H325.47M324.72,875H325.49M324.7,877H325.51M324.7,886H325.51M324.66,888H325.55M324.62,890H325.59M324.58,892H325.63M324.54,894H325.67M324.5,896H325.71M324.46,898H325.75M324.42,900H325.79M324.38,902H325.83M324.34,904H325.87M324.3,906H325.91M323.5,906H326.71M323.5,908H326.71M323.5,910H326.71M323.5,912H326.71M323.5,914H326.71M323.5,916H326.71M323.5,918H326.71M323.5,920H326.71M323.5,922H326.71M323.5,924H326.71M323.5,926H326.71M323.5,928H326.71M323.5,930H326.71M323.5,932H326.71M323.5,934H326.71M323.5,936H326.71M323.5,938H326.71M323.5,940H326.71M323.5,942H326.71M323.5,944H326.71M323.5,946H326.71M323.5,948H326.71M323.5,950H326.71M323.5,952H326.71M324.6,952H325.61M324.6,954.01H325.61M324.59,956.03H325.62M324.59,958.04H325.62M324.59,960.06H325.62M324.59,962.07H325.62M324.58,964.08H325.63M324.58,966.1H325.63M324.58,968.11H325.63M324.57,970.12H325.64M324.57,972.14H325.64M324.57,974.15H325.64M324.57,976.17H325.64M324.56,978.18H325.65M324.56,980.19H325.65M324.56,982.21H325.65M324.56,984.22H325.65M324.55,986.24H325.66M324.55,988.25H325.66M324.55,990.26H325.66M324.54,992.28H325.67M324.54,994.29H325.67M324.54,996.31H325.67M324.54,998.32H325.67M324.53,1000.33H325.68M324.53,1002.35H325.68M324.53,1004.36H325.68M324.52,1006.38H325.69M324.52,1008.39H325.69M324.52,1010.4H325.69M324.52,1012.42H325.69M324.51,1014.43H325.7M324.51,1016.44H325.7M324.51,1018.46H325.7M324.51,1020.47H325.7M324.5,1022.49H325.71M324.5,1024.5H325.71M324.5,1026.51H325.71M324.49,1028.53H325.72M324.49,1030.54H325.72M324.49,1032.56H325.72M324.49,1034.57H325.72M324.48,1036.58H325.73M324.48,1038.6H325.73M324.48,1040.61H325.73M324.48,1042.62H325.74M324.47,1044.64H325.74M324.47,1046.65H325.74M324.47,1048.67H325.74M324.46,1050.68H325.75M324.46,1052.69H325.75M324.46,1054.71H325.75M324.46,1056.72H325.75M324.45,1058.74H325.76M324.45,1060.75H325.76M324.45,1062.76H325.76M324.44,1064.78H325.77M324.44,1066.79H325.77M324.44,1068.81H325.77M324.44,1070.82H325.77M324.43,1072.83H325.78M324.43,1074.85H325.78M324.43,1076.86H325.78M324.43,1078.88H325.79M324.42,1080.89H325.79M324.42,1082.9H325.79M324.42,1084.92H325.79M324.41,1086.93H325.8M324.41,1088.94H325.8M324.41,1090.96H325.8M324.41,1092.97H325.8M324.4,1094.99H325.81M324.4,1097H325.81M325,1102H325.21M324.99,1104.03H325.22M324.98,1106.07H325.23M324.97,1108.1H325.24M324.96,1110.13H325.25M324.95,1112.17H325.26M324.94,1114.2H325.27M324.93,1116.23H325.28M324.92,1118.27H325.29M324.91,1120.3H325.3M324.9,1122.33H325.31M324.89,1124.37H325.32M324.88,1126.4H325.33M324.87,1128.43H325.34M324.86,1130.47H325.35M324.85,1132.5H325.36M324.84,1134.53H325.37M324.83,1136.57H325.38M324.82,1138.6H325.39M324.81,1140.63H325.4M324.8,1142.67H325.41M324.79,1144.7H325.42M324.78,1146.73H325.43M324.77,1148.77H325.44M324.76,1150.8H325.45M324.75,1152.83H325.46M324.74,1154.87H325.47M324.73,1156.9H325.48M324.72,1158.93H325.49M324.71,1160.97H325.5M324.7,1163H325.51" stroke="#EC9B46" stroke-width="6.8" stroke-linecap="round" fill="none"/>
<path d="M325.1,815.7H325.11M325.1,825H325.11M325.1,832.4H325.11M325.1,837.8H325.11M322,914H328.21M323.8,921H326.41M320.8,928H329.41M321.4,935.3H328.81M323.7,944H326.51M323.8,970.8H326.41M323.5,984.8H326.71M323.4,1030H326.81M323.2,1046H327.01M324.2,1062.4H326.01M325.1,1081.6H325.11M325,1140H325.21M324.6,1162.7H325.61" stroke="#EC9B46" stroke-width="9.4" stroke-linecap="round" fill="none"/>
<line x1="294.9" y1="811" x2="354.8" y2="811" stroke="#EC9B46" stroke-width="7" stroke-linecap="round"/>
<path d="M426.6,811H426.61M426.6,813.03H426.61M426.6,815.06H426.61M426.6,817.09H426.61M426.6,819.12H426.61M426.6,821.15H426.61M426.6,823.18H426.61M426.6,825.21H426.61M426.6,827.24H426.61M426.6,829.26H426.61M426.6,831.29H426.61M426.6,833.32H426.61M426.6,835.35H426.61M426.6,837.38H426.61M426.6,839.41H426.61M426.6,841.44H426.61M426.6,843.47H426.61M426.6,845.5H426.61M426.6,847.53H426.61M426.6,849.56H426.61M426.6,851.59H426.61M426.6,853.62H426.61M426.6,855.65H426.61M426.6,857.68H426.61M426.59,859.71H426.62M426.58,861.74H426.63M426.57,863.76H426.64M426.56,865.79H426.65M426.55,867.82H426.66M426.54,869.85H426.67M426.54,871.88H426.67M426.53,873.91H426.68M426.52,875.94H426.69M426.51,877.97H426.7M426.5,880H426.71M426.5,880H426.71M426.4,882H426.81M426.3,884H426.91M426.2,886H427.01M426.1,888H427.11M426,890H427.21M425.9,892H427.31M425.8,894H427.41M425.7,896H427.51M425.6,898H427.61M425.5,900H427.71M425,900H428.21M425,902H428.21M425,904H428.21M425,906H428.21M425,908H428.21M425,910H428.21M425,912H428.21M425,914H428.21M425,916H428.21M425,918H428.21M425,920H428.21M425,922H428.21M425,924H428.21M425,926H428.21M425,928H428.21M425,930H428.21M425,932H428.21M425,934H428.21M425,936H428.21M425,938H428.21M425,940H428.21M425,942H428.21M425,944H428.21M425,946H428.21M425,948H428.21M425,950H428.21M425,952H428.21M426,952H427.21M425.97,954H427.24M425.94,956H427.27M425.91,958H427.3M425.88,960H427.33M425.85,962H427.36M425.82,964H427.39M425.79,966H427.42M425.76,968H427.45M425.74,970H427.47M425.71,972H427.5M425.68,974H427.53M425.65,976H427.56M425.62,978H427.59M425.59,980H427.62M425.56,982H427.65M425.53,984H427.68M425.5,986H427.71M425.5,986H427.71M425.38,988H427.83M425.26,990H427.95M425.15,992H428.06M425.03,994H428.18M424.91,996H428.3M424.79,998H428.42M424.68,1000H428.53M424.56,1002H428.65M424.44,1004H428.77M424.32,1006H428.89M424.21,1008H429M424.09,1010H429.12M423.97,1012H429.24M423.85,1014H429.36M423.74,1016H429.47M423.62,1018H429.59M423.5,1020H429.71M423.5,1020H429.71M423.51,1022H429.7M423.53,1024H429.68M423.54,1026H429.67M423.56,1028H429.65M423.57,1030H429.64M423.59,1032H429.62M423.6,1034H429.61M423.61,1036H429.6M423.63,1038H429.58M423.64,1040H429.57M423.66,1042H429.55M423.67,1044H429.54M423.69,1046H429.52M423.7,1048H429.51M423.71,1050H429.5M423.73,1052H429.48M423.74,1054H429.47M423.76,1056H429.45M423.77,1058H429.44M423.79,1060H429.42M423.8,1062H429.41M423.81,1064H429.4M423.83,1066H429.38M423.84,1068H429.37M423.86,1070H429.35M423.87,1072H429.34M423.89,1074H429.32M423.9,1076H429.31M423.91,1078H429.3M423.93,1080H429.28M423.94,1082H429.27M423.96,1084H429.25M423.97,1086H429.24M423.99,1088H429.22M424,1090H429.21M424.5,1090H428.71M424.53,1091.94H428.68M424.56,1093.89H428.65M424.58,1095.83H428.63M424.61,1097.78H428.6M424.64,1099.72H428.57M424.67,1101.67H428.54M424.69,1103.61H428.52M424.72,1105.56H428.49M424.75,1107.5H428.46M424.78,1109.44H428.43M424.81,1111.39H428.4M424.83,1113.33H428.38M424.86,1115.28H428.35M424.89,1117.22H428.32M424.92,1119.17H428.29M424.94,1121.11H428.27M424.97,1123.06H428.24M425,1125H428.21M424.5,1125H428.71M424.47,1127H428.74M424.45,1129H428.76M424.42,1131H428.79M424.39,1133H428.82M424.37,1135H428.84M424.34,1137H428.87M424.32,1139H428.89M424.29,1141H428.92M424.26,1143H428.95M424.24,1145H428.97M424.21,1147H429M424.18,1149H429.03M424.16,1151H429.05M424.13,1153H429.08M424.11,1155H429.1M424.08,1157H429.13M424.05,1159H429.16M424.03,1161H429.18M424,1163H429.21" stroke="#EC9B46" stroke-width="6.8" stroke-linecap="round" fill="none"/>
<path d="M424.9,904H428.31M416.9,914H436.31M421.3,920H431.91M411.9,928H441.31M417.6,935.3H435.61M419.3,940H433.91M420.3,945.4H432.91M422.6,970.8H430.61M421.4,986H431.81M419.6,1029.5H433.61M423.8,1036.3H429.41M417.9,1046H435.31M424.8,1052.8H428.41M420.7,1063.8H432.51M425.3,1070.7H427.91M423.1,1081.6H430.11M425.3,1090H427.91M425.8,1096.8H427.41M422,1138H431.21M425.3,1147.6H427.91M421.3,1162.7H431.91" stroke="#EC9B46" stroke-width="9.4" stroke-linecap="round" fill="none"/>
<line x1="396.1" y1="811" x2="457" y2="811" stroke="#EC9B46" stroke-width="7" stroke-linecap="round"/>
<path d="M527.8,811H528.41M527.8,813.07H528.41M527.8,815.14H528.41M527.8,817.21H528.41M527.8,819.29H528.41M527.8,821.36H528.41M527.8,823.43H528.41M527.8,825.5H528.41M528.1,838H528.11M528.1,838.2H528.11M528,850H528.21M528,852.05H528.21M528,854.09H528.21M528,856.14H528.21M528,858.18H528.21M528,860.23H528.21M528,862.27H528.21M528,864.32H528.21M528,866.36H528.21M528,868.41H528.21M528,870.45H528.21M528,872.5H528.21M528,879.5H528.21M527.9,881.45H528.31M527.8,883.4H528.41M527.7,885.35H528.51M527.6,887.3H528.61M527.5,889.25H528.71M527.4,891.2H528.81M527.3,893.15H528.91M527.2,895.1H529.01M527.1,897.05H529.11M527,899H529.21M526.5,899H529.71M526.5,901.04H529.71M526.5,903.08H529.71M526.5,905.12H529.71M526.5,907.15H529.71M526.5,909.19H529.71M526.5,911.23H529.71M526.5,913.27H529.71M526.5,915.31H529.71M526.5,917.35H529.71M526.5,919.38H529.71M526.5,921.42H529.71M526.5,923.46H529.71M526.5,925.5H529.71M526.5,927.54H529.71M526.5,929.58H529.71M526.5,931.62H529.71M526.5,933.65H529.71M526.5,935.69H529.71M526.5,937.73H529.71M526.5,939.77H529.71M526.5,941.81H529.71M526.5,943.85H529.71M526.5,945.88H529.71M526.5,947.92H529.71M526.5,949.96H529.71M526.5,952H529.71M527,952H529.21M526.97,954H529.24M526.94,956H529.27M526.91,958H529.3M526.88,960H529.33M526.85,962H529.36M526.82,964H529.39M526.79,966H529.42M526.76,968H529.45M526.74,970H529.47M526.71,972H529.5M526.68,974H529.53M526.65,976H529.56M526.62,978H529.59M526.59,980H529.62M526.56,982H529.65M526.53,984H529.68M526.5,986H529.71M526.5,986H529.71M526.41,988H529.8M526.32,990H529.89M526.23,992H529.98M526.14,994H530.07M526.05,996H530.16M525.95,998H530.26M525.86,1000H530.35M525.77,1002H530.44M525.68,1004H530.53M525.59,1006H530.62M525.5,1008H530.71M524.5,1008H531.71M524.14,1010H532.07M523.77,1012H532.44M523.41,1014H532.8M523.05,1016H533.16M522.68,1018H533.53M522.32,1020H533.89M521.95,1022H534.26M521.59,1024H534.62M521.23,1026H534.98M520.86,1028H535.35M520.5,1030H535.71M520.5,1030H535.71M520.55,1031.98H535.66M520.59,1033.95H535.62M520.64,1035.93H535.57M520.68,1037.91H535.53M520.73,1039.89H535.48M520.77,1041.86H535.44M520.82,1043.84H535.39M520.86,1045.82H535.35M520.91,1047.8H535.3M520.95,1049.77H535.26M521,1051.75H535.21M521.05,1053.73H535.16M521.09,1055.7H535.12M521.14,1057.68H535.07M521.18,1059.66H535.03M521.23,1061.64H534.98M521.27,1063.61H534.94M521.32,1065.59H534.89M521.36,1067.57H534.85M521.41,1069.55H534.8M521.45,1071.52H534.76M521.5,1073.5H534.71M521.55,1075.48H534.66M521.59,1077.45H534.62M521.64,1079.43H534.57M521.68,1081.41H534.53M521.73,1083.39H534.48M521.77,1085.36H534.44M521.82,1087.34H534.39M521.86,1089.32H534.35M521.91,1091.3H534.3M521.95,1093.27H534.26M522,1095.25H534.21M522.05,1097.23H534.16M522.09,1099.2H534.12M522.14,1101.18H534.07M522.18,1103.16H534.03M522.23,1105.14H533.98M522.27,1107.11H533.94M522.32,1109.09H533.89M522.36,1111.07H533.85M522.41,1113.05H533.8M522.45,1115.02H533.76M522.5,1117H533.71M522.5,1117H533.71M520.79,1119H535.42M519.07,1121H537.14M517.36,1123H538.85M515.64,1125H540.57M513.93,1127H542.28M512.21,1129H544M510.5,1131H545.71M510.5,1131H545.71M510.38,1133H545.84M510.25,1135H545.96M510.12,1137H546.09M510,1139H546.21M509.88,1141H546.34M509.75,1143H546.46M509.62,1145H546.59M509.5,1147H546.71M509.38,1149H546.84M509.25,1151H546.96M509.12,1153H547.09M509,1155H547.21M508.88,1157H547.34M508.75,1159H547.46M508.62,1161H547.59M508.5,1163H547.71" stroke="#EC9B46" stroke-width="6.8" stroke-linecap="round" fill="none"/>
<path d="M526.8,904H529.41M527.8,909.4H528.41M506,914.8H550.21M521.4,920H534.81M498.7,927.5H557.51M512.1,933.5H544.11M513.8,937.5H542.41M517.1,945.6H539.11M526.8,959H529.41M520.8,971H535.41M526.8,977.7H529.41M517.8,984.4H538.41M518,985.5H538.21M522.8,1014.3H533.41M517.8,1021H538.41M507.4,1029.4H548.81M519.8,1037.6H536.41M505,1045.9H551.21M517.8,1054H538.41M513.6,1063.7H542.61M522.8,1072H533.41M516.1,1081H540.11M521.8,1088.4H534.41M517.4,1094.6H538.81M522.8,1103.5H533.41M521.8,1108.3H534.41M519.8,1124H536.41M512.8,1131H543.41M506.8,1133.7H549.41M507.4,1139.2H548.81M517.8,1144.7H538.41M517.8,1151.6H538.41M506.8,1158.4H549.41M506.8,1162.5H549.41" stroke="#EC9B46" stroke-width="9.4" stroke-linecap="round" fill="none"/>
<line x1="504.1" y1="811" x2="553.6" y2="811" stroke="#EC9B46" stroke-width="7" stroke-linecap="round"/>
<line x1="156.2" y1="808.65" x2="156.2" y2="1253.65" stroke="#000" stroke-width="4.7" stroke-linecap="butt"/>
<line x1="137" y1="1251.3" x2="598.3" y2="1251.3" stroke="#000" stroke-width="4.7" stroke-linecap="butt"/>
<line x1="137" y1="811" x2="156.2" y2="811" stroke="#000" stroke-width="4.7" stroke-linecap="butt"/>
<g><text transform="translate(67.57,822.54) scale(1.015,1)" font-size="33.00" font-weight="bold" fill="#000">1.00</text><g transform="translate(67.57,822.54) scale(1.015,1)"><rect x="1.32" y="-5.61" width="6.35" height="6.60" fill="#fff"/><rect x="12.23" y="-5.61" width="5.92" height="6.60" fill="#fff"/></g></g>
<line x1="137" y1="899.05" x2="156.2" y2="899.05" stroke="#000" stroke-width="4.7" stroke-linecap="butt"/>
<text transform="translate(67.04,910.59) scale(1.015,1)" font-size="33.00" font-weight="bold" fill="#000">0.95</text>
<line x1="137" y1="987.1" x2="156.2" y2="987.1" stroke="#000" stroke-width="4.7" stroke-linecap="butt"/>
<text transform="translate(67.57,998.64) scale(1.015,1)" font-size="33.00" font-weight="bold" fill="#000">0.90</text>
<line x1="137" y1="1075.15" x2="156.2" y2="1075.15" stroke="#000" stroke-width="4.7" stroke-linecap="butt"/>
<text transform="translate(67.04,1086.69) scale(1.015,1)" font-size="33.00" font-weight="bold" fill="#000">0.85</text>
<line x1="137" y1="1163.2" x2="156.2" y2="1163.2" stroke="#000" stroke-width="4.7" stroke-linecap="butt"/>
<text transform="translate(67.57,1174.74) scale(1.015,1)" font-size="33.00" font-weight="bold" fill="#000">0.80</text>
<line x1="137" y1="1251.3" x2="156.2" y2="1251.3" stroke="#000" stroke-width="4.7" stroke-linecap="butt"/>
<text transform="translate(67.04,1262.84) scale(1.015,1)" font-size="33.00" font-weight="bold" fill="#000">0.75</text>
<line x1="223.5" y1="1251.3" x2="223.5" y2="1270" stroke="#000" stroke-width="4.7" stroke-linecap="butt"/>
<line x1="325.1" y1="1251.3" x2="325.1" y2="1270" stroke="#000" stroke-width="4.7" stroke-linecap="butt"/>
<line x1="426.6" y1="1251.3" x2="426.6" y2="1270" stroke="#000" stroke-width="4.7" stroke-linecap="butt"/>
<line x1="528.1" y1="1251.3" x2="528.1" y2="1270" stroke="#000" stroke-width="4.7" stroke-linecap="butt"/>
<text transform="translate(214.83,1304.2)" font-size="31.70" font-weight="bold" fill="#000">0</text>
<g><text transform="translate(315.69,1304.44)" font-size="31.70" font-weight="bold" fill="#000">1</text><g transform="translate(315.69,1304.44)"><rect x="1.27" y="-5.39" width="6.10" height="6.34" fill="#fff"/><rect x="11.74" y="-5.39" width="5.69" height="6.34" fill="#fff"/></g></g>
<text transform="translate(417.68,1304.44)" font-size="31.70" font-weight="bold" fill="#000">2</text>
<text transform="translate(510.37,1304.2)" font-size="31.70" font-weight="bold" fill="#000">3+</text>
<text transform="translate(217.11,783.94) scale(0.900,1)" font-size="32.90" font-weight="normal" fill="#000">a</text>
<text transform="translate(318.44,784.47) scale(0.900,1)" font-size="32.90" font-weight="normal" fill="#000">b</text>
<text transform="translate(419.17,783.94) scale(0.900,1)" font-size="32.90" font-weight="normal" fill="#000">c</text>
<text transform="translate(520.98,784.47) scale(0.900,1)" font-size="32.90" font-weight="normal" fill="#000">d</text>
<text transform="translate(182.88,1212.48) scale(1.009,1)" font-size="25.70" font-weight="bold" fill="#000">(8,556)</text>
<g><text transform="translate(277.77,1212.48) scale(1.019,1)" font-size="25.70" font-weight="bold" fill="#000">(13,978)</text><g transform="translate(277.77,1212.48) scale(1.019,1)"><rect x="9.59" y="-4.37" width="4.95" height="5.14" fill="#fff"/><rect x="18.08" y="-4.37" width="4.61" height="5.14" fill="#fff"/></g></g>
<text transform="translate(385.78,1211.35) scale(1.012,1)" font-size="25.81" font-weight="bold" fill="#000">(9,452)</text>
<text transform="translate(488.08,1212.59) scale(1.037,1)" font-size="25.18" font-weight="bold" fill="#000">(3,262)</text>
<text transform="translate(178.07,1359.25) scale(1.019,1)" font-size="35.07" font-weight="bold" fill="#000">Number of mismatches</text>
<text transform="translate(46.01,1120.54) rotate(-90) scale(0.971,1)" font-size="37.57" font-weight="bold" fill="#000">CFD score</text>
<defs><pattern id="hp" patternUnits="userSpaceOnUse" width="8.66" height="8.66" patternTransform="rotate(-48)"><rect width="8.66" height="8.66" fill="#E28CFC"/><rect x="0" y="0" width="2.8" height="8.66" fill="#000"/></pattern><pattern id="hg" patternUnits="userSpaceOnUse" width="8.66" height="8.66" patternTransform="rotate(-48)"><rect width="8.66" height="8.66" fill="#BEF8DE"/><rect x="0" y="0" width="2.8" height="8.66" fill="#000"/></pattern><pattern id="hw" patternUnits="userSpaceOnUse" width="8.66" height="8.66" patternTransform="rotate(-48)"><rect width="8.66" height="8.66" fill="#fff"/><rect x="0" y="0" width="2.8" height="8.66" fill="#000"/></pattern></defs>
<rect x="1061.75" y="983" width="24" height="270" fill="#BD5AF0" stroke="#000" stroke-width="4.7"/>
<rect x="1106.25" y="846.62" width="24.2" height="406.38" fill="url(#hp)" stroke="#000" stroke-width="4.7"/>
<text transform="translate(1058.58,966.33)" font-size="26.40" font-weight="normal" fill="#000">50</text>
<text transform="translate(1103.18,829.95)" font-size="26.40" font-weight="normal" fill="#000">75</text>
<rect x="1223.25" y="961.18" width="24.2" height="291.82" fill="url(#hp)" stroke="#000" stroke-width="4.7"/>
<text transform="translate(1183.63,1238.78)" font-size="26.40" font-weight="normal" fill="#000">0</text>
<text transform="translate(1220.18,944.51)" font-size="26.40" font-weight="normal" fill="#000">54</text>
<rect x="1341.15" y="1212.11" width="24.2" height="40.89" fill="url(#hp)" stroke="#000" stroke-width="4.7"/>
<text transform="translate(1301.53,1238.78)" font-size="26.40" font-weight="normal" fill="#000">0</text>
<text transform="translate(1345.63,1195.43)" font-size="26.40" font-weight="normal" fill="#000">8</text>
<rect x="1414.95" y="895.72" width="24" height="357.28" fill="#55DA87" stroke="#000" stroke-width="4.7"/>
<rect x="1459.45" y="914.81" width="24.2" height="338.19" fill="url(#hg)" stroke="#000" stroke-width="4.7"/>
<text transform="translate(1411.78,879.05)" font-size="26.40" font-weight="normal" fill="#000">66</text>
<text transform="translate(1456.38,898.14)" font-size="26.40" font-weight="normal" fill="#000">63</text>
<rect x="1533.05" y="961.18" width="24" height="291.82" fill="#55DA87" stroke="#000" stroke-width="4.7"/>
<rect x="1577.55" y="983" width="24.2" height="270" fill="url(#hg)" stroke="#000" stroke-width="4.7"/>
<text transform="translate(1529.88,944.51)" font-size="26.40" font-weight="normal" fill="#000">54</text>
<text transform="translate(1574.48,966.33)" font-size="26.40" font-weight="normal" fill="#000">50</text>
<rect x="1651.35" y="1179.38" width="24" height="73.62" fill="#55DA87" stroke="#000" stroke-width="4.7"/>
<rect x="1695.85" y="983" width="24.2" height="270" fill="url(#hg)" stroke="#000" stroke-width="4.7"/>
<g><text transform="translate(1647.77,1162.91)" font-size="26.40" font-weight="normal" fill="#000">14</text><g transform="translate(1647.77,1162.91)"><rect x="1.45" y="-3.70" width="5.16" height="4.49" fill="#fff"/><rect x="8.96" y="-3.70" width="5.03" height="4.49" fill="#fff"/></g></g>
<text transform="translate(1692.78,966.33)" font-size="26.40" font-weight="normal" fill="#000">50</text>
<line x1="1043.5" y1="786" x2="1043.5" y2="1255.35" stroke="#000" stroke-width="4.7" stroke-linecap="butt"/>
<line x1="1024.7" y1="1253" x2="1741.8" y2="1253" stroke="#000" stroke-width="4.7" stroke-linecap="butt"/>
<line x1="1024.7" y1="816.6" x2="1043.5" y2="816.6" stroke="#000" stroke-width="4.7" stroke-linecap="butt"/>
<text transform="translate(979.72,828.43) scale(1.030,1)" font-size="34.40" font-weight="bold" fill="#000">80</text>
<line x1="1024.7" y1="925.7" x2="1043.5" y2="925.7" stroke="#000" stroke-width="4.7" stroke-linecap="butt"/>
<text transform="translate(979.72,937.53) scale(1.030,1)" font-size="34.40" font-weight="bold" fill="#000">60</text>
<line x1="1024.7" y1="1034.8" x2="1043.5" y2="1034.8" stroke="#000" stroke-width="4.7" stroke-linecap="butt"/>
<text transform="translate(979.72,1046.62) scale(1.030,1)" font-size="34.40" font-weight="bold" fill="#000">40</text>
<line x1="1024.7" y1="1143.9" x2="1043.5" y2="1143.9" stroke="#000" stroke-width="4.7" stroke-linecap="butt"/>
<text transform="translate(979.72,1155.73) scale(1.030,1)" font-size="34.40" font-weight="bold" fill="#000">20</text>
<line x1="1024.7" y1="1253" x2="1043.5" y2="1253" stroke="#000" stroke-width="4.7" stroke-linecap="butt"/>
<text transform="translate(999.43,1264.83) scale(1.030,1)" font-size="34.40" font-weight="bold" fill="#000">0</text>
<line x1="1095.4" y1="1253" x2="1095.4" y2="1271.7" stroke="#000" stroke-width="4.7" stroke-linecap="butt"/>
<text transform="translate(1085.26,1309.2)" font-size="34.90" font-weight="bold" fill="#000">0</text>
<line x1="1212.4" y1="1253" x2="1212.4" y2="1271.7" stroke="#000" stroke-width="4.7" stroke-linecap="butt"/>
<g><text transform="translate(1201.44,1309.47)" font-size="34.90" font-weight="bold" fill="#000">1</text><g transform="translate(1201.44,1309.47)"><rect x="1.40" y="-5.93" width="6.72" height="6.98" fill="#fff"/><rect x="12.93" y="-5.93" width="6.26" height="6.98" fill="#fff"/></g></g>
<line x1="1330.3" y1="1253" x2="1330.3" y2="1271.7" stroke="#000" stroke-width="4.7" stroke-linecap="butt"/>
<text transform="translate(1319.88,1309.47)" font-size="34.90" font-weight="bold" fill="#000">2</text>
<line x1="1448.6" y1="1253" x2="1448.6" y2="1271.7" stroke="#000" stroke-width="4.7" stroke-linecap="butt"/>
<text transform="translate(1438.46,1309.2)" font-size="34.90" font-weight="bold" fill="#000">0</text>
<line x1="1566.7" y1="1253" x2="1566.7" y2="1271.7" stroke="#000" stroke-width="4.7" stroke-linecap="butt"/>
<g><text transform="translate(1555.74,1309.47)" font-size="34.90" font-weight="bold" fill="#000">1</text><g transform="translate(1555.74,1309.47)"><rect x="1.40" y="-5.93" width="6.72" height="6.98" fill="#fff"/><rect x="12.93" y="-5.93" width="6.26" height="6.98" fill="#fff"/></g></g>
<line x1="1685" y1="1253" x2="1685" y2="1271.7" stroke="#000" stroke-width="4.7" stroke-linecap="butt"/>
<text transform="translate(1674.58,1309.47)" font-size="34.90" font-weight="bold" fill="#000">2</text>
<path d="M1063.3,1319.2 V1331.3 H1370 V1319.2" fill="none" stroke="#000" stroke-width="4.3"/>
<path d="M1411,1319.2 V1331.3 H1720.4 V1319.2" fill="none" stroke="#000" stroke-width="4.3"/>
<text transform="translate(1176.55,1368.49) scale(1.050,1)" font-size="32.70" font-weight="bold" fill="#C04DF0">M82</text>
<text transform="translate(1544.44,1368.5) scale(0.922,1)" font-size="32.00" font-weight="bold" fill="#45D880">AC</text>
<rect x="1491.7" y="770.2" width="44.7" height="11.6" fill="#fff" stroke="#000" stroke-width="4.4"/>
<rect x="1491.7" y="819.1" width="44.7" height="11.6" fill="url(#hw)" stroke="#000" stroke-width="4.4"/>
<text transform="translate(1566.05,787.62) scale(1.061,1)" font-size="30.80" font-weight="normal" fill="#000">Random</text>
<text transform="translate(1566.01,835.4) scale(1.080,1)" font-size="30.64" font-weight="normal" fill="#000">Phenotype</text>
<text transform="translate(954.9,1258.79) rotate(-90) scale(1.041,1)" font-size="33.36" font-weight="bold" fill="#000">Gene cleavage efficiency (%)</text>
</svg></body></html>
